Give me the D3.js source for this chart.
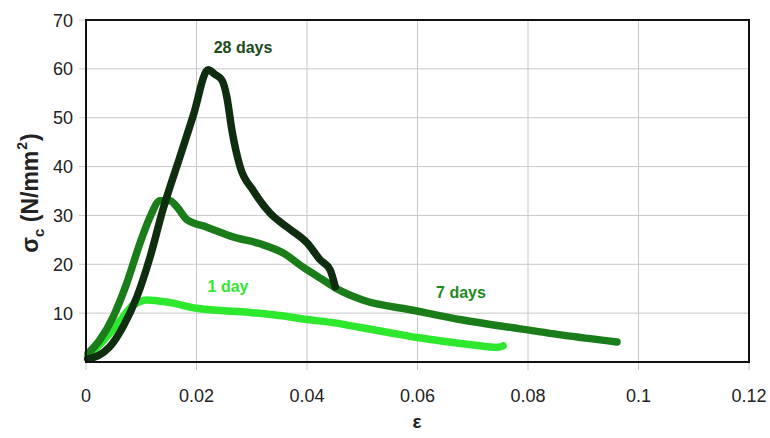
<!DOCTYPE html>
<html>
<head>
<meta charset="utf-8">
<script src="https://cdn.jsdelivr.net/npm/d3@7"></script>
<style>
  body { margin: 0; background: #fff; }
  svg { font-family: "Liberation Sans", Arial, sans-serif; }
</style>
</head>
<body>
<svg width="770" height="438"></svg>
<script>
// strain values and stress values (N/mm2)
const day28X = [0.0003, 0.0043, 0.0067, 0.0092, 0.0116, 0.0139, 0.0170, 0.0194, 0.0221, 0.0233, 0.0246, 0.0255, 0.0264, 0.0279, 0.0302, 0.0333, 0.0364, 0.0400, 0.0424, 0.0442, 0.0451];
const day28Y = [0.6, 3.1, 7.2, 13.3, 21.5, 31.1, 42.0, 50.4, 59.8, 58.9, 57.7, 54.2, 47.5, 39.9, 35.2, 30.5, 27.6, 24.4, 20.9, 18.8, 15.4];

const day7X = [0.0004, 0.0025, 0.0049, 0.0074, 0.0098, 0.0116, 0.0134, 0.0152, 0.0165, 0.0183, 0.0219, 0.0266, 0.0315, 0.0357, 0.0393, 0.0429, 0.0454, 0.0501, 0.0592, 0.0682, 0.0773, 0.0863, 0.0961];
const day7Y = [1.8, 4.5, 9.2, 16.2, 24.4, 29.7, 33.0, 33.0, 31.7, 29.1, 27.6, 25.6, 24.2, 22.3, 19.4, 16.8, 15.0, 12.7, 10.6, 8.6, 7.0, 5.5, 4.1];

const day1X = [0.0003, 0.003, 0.006, 0.0085, 0.0098, 0.011, 0.015, 0.020, 0.025, 0.030, 0.035, 0.040, 0.045, 0.050, 0.055, 0.060, 0.065, 0.070, 0.0745, 0.0755];
const day1Y = [1.2, 4.2, 8.2, 11.6, 12.4, 12.7, 12.2, 11.0, 10.5, 10.1, 9.5, 8.7, 8.0, 7.0, 6.0, 5.0, 4.2, 3.5, 3.0, 3.3];

const xTicks = [0, 0.02, 0.04, 0.06, 0.08, 0.1, 0.12];
const yTicks = [10, 20, 30, 40, 50, 60, 70];

const svg = d3.select("svg");
const x = d3.scaleLinear().domain([0, 0.12]).range([86, 749]);
const y = d3.scaleLinear().domain([0, 70]).range([362, 20]);

// grid lines (they poke out of the frame a little like ticks)
svg.append("g")
  .selectAll("line")
  .data(xTicks.slice(1, -1))
  .enter()
  .append("line")
    .attr("x1", d => x(d)).attr("x2", d => x(d))
    .attr("y1", y(70)).attr("y2", y(0) + 8)
    .attr("stroke", "#c8c8c8").attr("stroke-width", 1);

svg.append("g")
  .selectAll("line")
  .data(yTicks.slice(0, -1))
  .enter()
  .append("line")
    .attr("x1", x(0) - 7).attr("x2", x(0.12))
    .attr("y1", d => y(d)).attr("y2", d => y(d))
    .attr("stroke", "#c8c8c8").attr("stroke-width", 1);

// small ticks at the frame ends
svg.append("line").attr("x1", x(0)).attr("x2", x(0)).attr("y1", y(0)).attr("y2", y(0) + 8).attr("stroke", "#c8c8c8");
svg.append("line").attr("x1", x(0.12)).attr("x2", x(0.12)).attr("y1", y(0)).attr("y2", y(0) + 8).attr("stroke", "#c8c8c8");
svg.append("line").attr("x1", x(0) - 7).attr("x2", x(0)).attr("y1", y(70)).attr("y2", y(70)).attr("stroke", "#c8c8c8");

// tick labels
svg.append("g")
  .selectAll("text")
  .data(xTicks)
  .enter()
  .append("text")
    .attr("x", d => x(d))
    .attr("y", 402)
    .attr("text-anchor", "middle")
    .attr("font-size", 18)
    .attr("fill", "#222")
    .text(d => d);

svg.append("g")
  .selectAll("text")
  .data(yTicks)
  .enter()
  .append("text")
    .attr("x", 73)
    .attr("y", d => y(d) + 6.5)
    .attr("text-anchor", "end")
    .attr("font-size", 18)
    .attr("fill", "#222")
    .text(d => d);

// curves
const line = d3.line()
  .x(d => x(d[0]))
  .y(d => y(d[1]))
  .curve(d3.curveMonotoneX);

const series = [
  { xs: day1X, ys: day1Y, color: "#2ee82e" },
  { xs: day7X, ys: day7Y, color: "#1a7d1a" },
  { xs: day28X, ys: day28Y, color: "#0f2e10" }
];

series.forEach(s => {
  svg.append("path")
    .datum(d3.zip(s.xs, s.ys))
    .attr("d", line)
    .attr("fill", "none")
    .attr("stroke", s.color)
    .attr("stroke-width", 7.5)
    .attr("stroke-linejoin", "round")
    .attr("stroke-linecap", "round");
});

// frame
svg.append("rect")
  .attr("x", x(0)).attr("y", y(70))
  .attr("width", x(0.12) - x(0)).attr("height", y(0) - y(70))
  .attr("fill", "none").attr("stroke", "#111").attr("stroke-width", 2);

// curve labels
svg.append("text").attr("x", 243).attr("y", 53).attr("text-anchor", "middle")
  .attr("font-size", 16).attr("font-weight", "bold").attr("fill", "#1b4a1b").text("28 days");
svg.append("text").attr("x", 228).attr("y", 292).attr("text-anchor", "middle")
  .attr("font-size", 16).attr("font-weight", "bold").attr("fill", "#33e633").text("1 day");
svg.append("text").attr("x", 461).attr("y", 298).attr("text-anchor", "middle")
  .attr("font-size", 16).attr("font-weight", "bold").attr("fill", "#1e8a1e").text("7 days");

// axis titles
svg.append("text").attr("x", 417).attr("y", 428).attr("text-anchor", "middle")
  .attr("font-size", 19).attr("font-weight", "bold").attr("fill", "#222").text("ε");

const yTitle = svg.append("text")
  .attr("transform", "translate(38,193) rotate(-90)")
  .attr("text-anchor", "middle")
  .attr("font-size", 23).attr("font-weight", "bold").attr("fill", "#222");
yTitle.append("tspan").text("σ");
yTitle.append("tspan").attr("font-size", 15).attr("dy", 6).text("c");
yTitle.append("tspan").attr("dy", -6).text(" (N/mm");
yTitle.append("tspan").attr("font-size", 14).attr("dx", 1).attr("dy", -11).text("2");
yTitle.append("tspan").attr("dx", 1).attr("dy", 11).text(")");
</script>
</body>
</html>
